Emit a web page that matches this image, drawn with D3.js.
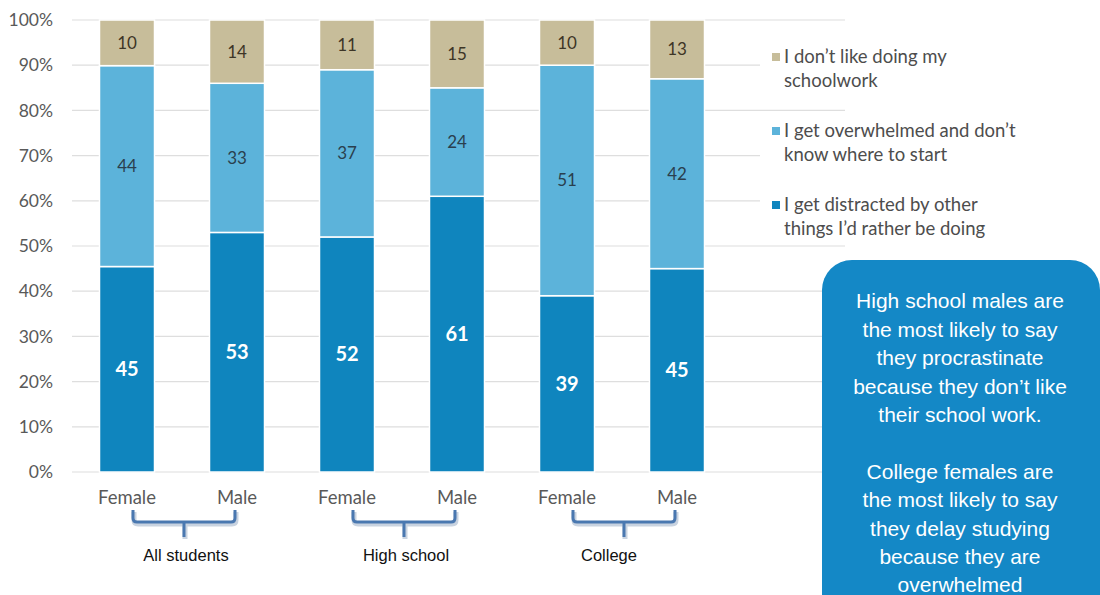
<!DOCTYPE html>
<html>
<head>
<meta charset="utf-8">
<script src="https://cdn.jsdelivr.net/npm/d3@7"></script>
<style>
  body { margin: 0; background: #fff; }
  svg { display: block; }
</style>
</head>
<body>
<div id="chart"></div>
<script>
// data
var bars = ["AS-F", "AS-M", "HS-F", "HS-M", "C-F", "C-M"];
var barLabels = ["Female", "Male", "Female", "Male", "Female", "Male"];
var groups = ["All students", "High school", "College"];
var distracted = [45, 53, 52, 61, 39, 45];
var overwhelmed = [44, 33, 37, 24, 51, 42];
var dislike = [10, 14, 11, 15, 10, 13];
var seriesNames = [
  ["I don\u2019t like doing my", "schoolwork"],
  ["I get overwhelmed and don\u2019t", "know where to start"],
  ["I get distracted by other", "things I\u2019d rather be doing"]
];
var yTicks = [0, 0.1, 0.2, 0.3, 0.4, 0.5, 0.6, 0.7, 0.8, 0.9, 1];
var calloutLines = [
  "High school males are", "the most likely to say", "they procrastinate",
  "because they don\u2019t like", "their school work.", "",
  "College females are", "the most likely to say", "they delay studying",
  "because they are", "overwhelmed"
];

var width = 1100, height = 595;
var colors = { distracted: "#0f85be", overwhelmed: "#5cb3da", dislike: "#c7bd9a" };
var calibri = "Lato, 'Open Sans', sans-serif";

var svg = d3.select("#chart").append("svg")
    .attr("width", width)
    .attr("height", height);

var x = d3.scaleBand()
    .domain(bars)
    .range([72, 732])
    .paddingInner(0.5)
    .paddingOuter(0.25);

var y = d3.scaleLinear()
    .domain([0, 1])
    .range([472, 20]);

// gridlines
svg.append("g").selectAll("line")
    .data(yTicks)
  .enter().append("line")
    .attr("x1", 72).attr("x2", 845)
    .attr("y1", function(d) { return y(d); })
    .attr("y2", function(d) { return y(d); })
    .attr("stroke", "#dedede")
    .attr("stroke-width", 1.2);

// y axis labels
var yAxis = svg.append("g")
    .attr("transform", "translate(56,0)")
    .call(d3.axisLeft(y).tickValues(yTicks).tickFormat(d3.format(".0%")).tickSize(0));
yAxis.select(".domain").remove();
yAxis.selectAll("text")
    .attr("font-family", calibri)
    .attr("font-size", 17.5)
    .attr("fill", "#595959");

// stacked data
var table = bars.map(function(b, i) {
  return { key: b, distracted: distracted[i], overwhelmed: overwhelmed[i], dislike: dislike[i] };
});
var stack = d3.stack()
    .keys(["distracted", "overwhelmed", "dislike"])
    .offset(d3.stackOffsetExpand);
var series = stack(table);

var layer = svg.append("g").selectAll("g")
    .data(series)
  .enter().append("g")
    .attr("fill", function(s) { return colors[s.key]; });

layer.selectAll("rect")
    .data(function(s) { return s; })
  .enter().append("rect")
    .attr("x", function(d) { return x(d.data.key); })
    .attr("width", x.bandwidth())
    .attr("y", function(d) { return y(d[1]); })
    .attr("height", function(d) { return y(d[0]) - y(d[1]); })
    .attr("stroke", "#fff")
    .attr("stroke-width", 1.5);

// value labels
series.forEach(function(s) {
  svg.append("g").selectAll("text")
      .data(s)
    .enter().append("text")
      .attr("x", function(d) { return x(d.data.key) + x.bandwidth() / 2; })
      .attr("y", function(d) { return y((d[0] + d[1]) / 2); })
      .attr("dy", "0.35em")
      .attr("text-anchor", "middle")
      .attr("font-family", calibri)
      .attr("font-size", s.key == "distracted" ? 20 : 17)
      .attr("font-weight", s.key == "distracted" ? "bold" : "normal")
      .attr("fill", s.key == "distracted" ? "#fff" : (s.key == "dislike" ? "#3d3526" : "#2a3f4e"))
      .text(function(d) { return d.data[s.key]; });
});

// x labels
svg.append("g").selectAll("text")
    .data(bars)
  .enter().append("text")
    .attr("x", function(d) { return x(d) + x.bandwidth() / 2; })
    .attr("y", 498)
    .attr("dy", "0.35em")
    .attr("text-anchor", "middle")
    .attr("font-family", calibri)
    .attr("font-size", 18.5)
    .attr("fill", "#595959")
    .text(function(d, i) { return barLabels[i]; });

// group braces
var braceG = svg.append("g");
groups.forEach(function(g, i) {
  var x0 = x(bars[i * 2]) + x.bandwidth() / 2 + 6;
  var x1 = x(bars[i * 2 + 1]) + x.bandwidth() / 2 - 2;
  var xm = (x0 + x1) / 2;
  var path = "M" + x0 + ",510 L" + x0 + ",518 Q" + x0 + ",522 " + (x0 + 4) + ",522" +
    " L" + (x1 - 4) + ",522 Q" + x1 + ",522 " + x1 + ",518 L" + x1 + ",510" +
    " M" + xm + ",522 L" + xm + ",537";
  braceG.append("path")
      .attr("d", path)
      .attr("fill", "none")
      .attr("stroke", "#c9d3e0")
      .attr("stroke-width", 5)
      .attr("transform", "translate(1,2)");
  braceG.append("path")
      .attr("d", path)
      .attr("fill", "none")
      .attr("stroke", "#4a78b0")
      .attr("stroke-width", 3);
  braceG.append("text")
      .attr("x", xm + (i == 2 ? -15 : 2))
      .attr("y", 555)
      .attr("dy", "0.35em")
      .attr("text-anchor", "middle")
      .attr("font-family", "'Liberation Sans', Arial, sans-serif")
      .attr("font-size", 16.5)
      .attr("fill", "#111")
      .text(g);
});

// legend
var legendKeys = ["dislike", "overwhelmed", "distracted"];
var legend = svg.append("g").selectAll("g")
    .data(legendKeys)
  .enter().append("g")
    .attr("transform", function(d, i) { return "translate(760," + (57 + i * 74) + ")"; });

legend.append("rect")
    .attr("x", 0).attr("y", -14)
    .attr("width", 280).attr("height", 48)
    .attr("fill", "#fff");

legend.append("rect")
    .attr("x", 12).attr("y", -4)
    .attr("width", 8).attr("height", 8)
    .attr("fill", function(d) { return colors[d]; });

legend.each(function(d, i) {
  var t = d3.select(this).append("text")
      .attr("font-family", calibri)
      .attr("font-size", 18.5)
      .attr("fill", "#4d4d4d");
  seriesNames[i].forEach(function(line, j) {
    t.append("tspan")
        .attr("x", 24)
        .attr("y", j * 24)
        .attr("dy", "0.35em")
        .text(line);
  });
});

// callout box
svg.append("rect")
    .attr("x", 822).attr("y", 260)
    .attr("width", 278).attr("height", 380)
    .attr("rx", 30).attr("ry", 30)
    .attr("fill", "#1488c6");

svg.append("g").selectAll("text")
    .data(calloutLines)
  .enter().append("text")
    .attr("x", 960)
    .attr("y", function(d, i) { return 301 + i * 28.4; })
    .attr("dy", "0.35em")
    .attr("text-anchor", "middle")
    .attr("font-family", "'Liberation Sans', Arial, sans-serif")
    .attr("font-size", 21)
    .attr("fill", "#fff")
    .text(function(d) { return d; });
</script>
</body>
</html>
